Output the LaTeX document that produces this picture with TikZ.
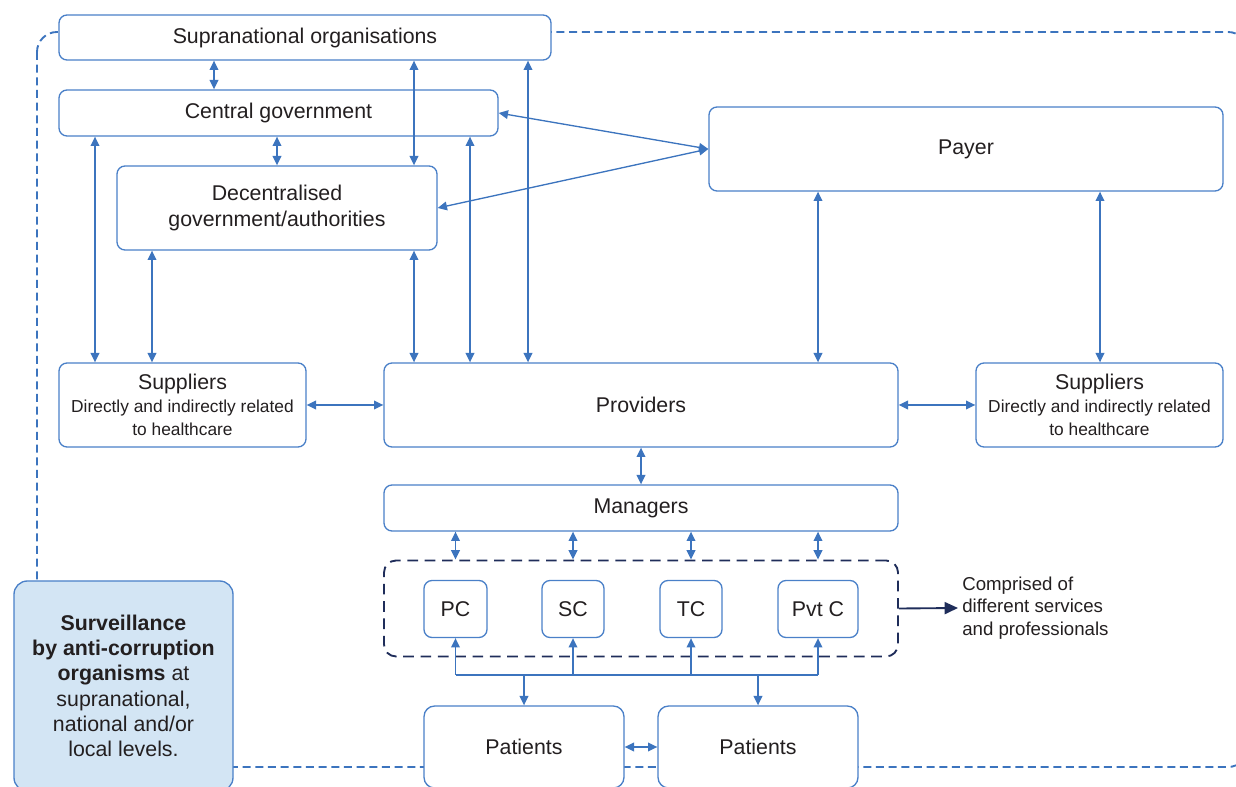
\documentclass[tikz,border=0pt]{standalone}
\usepackage{fontspec}
\setmainfont{Liberation Sans}
\usetikzlibrary{arrows.meta}
\definecolor{ln}{HTML}{3C74BE}
\definecolor{bd}{HTML}{4A80C8}
\definecolor{navy}{HTML}{1F2D5A}
\definecolor{tx}{HTML}{231F20}
\definecolor{sv}{HTML}{D3E5F4}
\newcommand{\subsz}{\fontsize{13}{17}\selectfont}
\begin{document}
\begin{tikzpicture}[x=0.75pt,y=-0.75pt,
  box/.style={draw=bd, line width=1pt, fill=white, rounded corners=6pt, text=tx,
    font=\fontsize{16}{19.5}\selectfont, align=center, inner sep=0pt},
  dbl/.style={draw=ln, line width=1pt, {Triangle[length=7pt,width=6.5pt]}-{Triangle[length=7pt,width=6.5pt]}},
  one/.style={draw=ln, line width=1pt, -{Triangle[length=7pt,width=6.5pt]}},
  plain/.style={draw=ln, line width=1pt},
]
\useasboundingbox (0,0) rectangle (1236,787);
% outer dashed frame
\draw[ln, line width=1.4pt, dash pattern=on 6pt off 3.5pt, rounded corners=15pt] (37,32) rectangle (1248,767);

% nodes
\node[box, minimum width=369pt, minimum height=33.75pt] (sup) at (305,37.5) {Supranational organisations};
\node[box, minimum width=329.25pt, minimum height=34.5pt] (cg) at (278.5,113) {Central government};
\node[box, minimum width=240pt, minimum height=63pt] (dg) at (277,208) {Decentralised\\government/authorities};
\node[box, minimum width=385.5pt, minimum height=63pt] (pay) at (966,149) {Payer};
\node[box, minimum width=185.25pt, minimum height=63pt, font=\fontsize{16}{17}\selectfont] (sl) at (182.5,405)
  {Suppliers\\\subsz Directly and indirectly related\\\subsz to healthcare};
\node[box, minimum width=385.5pt, minimum height=63pt] (prov) at (641,405) {Providers};
\node[box, minimum width=185.25pt, minimum height=63pt, font=\fontsize{16}{17}\selectfont] (sr) at (1099.5,405)
  {Suppliers\\\subsz Directly and indirectly related\\\subsz to healthcare};
\node[box, minimum width=385.5pt, minimum height=34.5pt] (man) at (641,508) {Managers};
\node[draw=navy, line width=1.4pt, dash pattern=on 8pt off 5pt, rounded corners=9pt,
  minimum width=385.5pt, minimum height=72pt, inner sep=0pt] (grp) at (641,608.5) {};
\node[box, minimum width=47.25pt, minimum height=42.75pt] (pc) at (455.5,609) {PC};
\node[box, minimum width=46.5pt, minimum height=42.75pt] (sc) at (573,609) {SC};
\node[box, minimum width=46.5pt, minimum height=42.75pt] (tc) at (691,609) {TC};
\node[box, minimum width=60pt, minimum height=42.75pt] (pvt) at (818,609) {Pvt C};
\node[box, minimum width=150pt, minimum height=61.5pt, rounded corners=8pt] (pa1) at (524,747) {Patients};
\node[box, minimum width=150pt, minimum height=61.5pt, rounded corners=8pt] (pa2) at (758,747) {Patients};
\node[box, fill=sv, rounded corners=10pt, minimum width=164.25pt, minimum height=157.5pt,
  font=\fontsize{16}{19}\selectfont] (surv) at (123.5,686)
  {\textbf{Surveillance}\\\textbf{by anti-corruption}\\\textbf{organisms} at\\supranational,\\national and/or\\local levels.};
\node[anchor=west, align=left, font=\fontsize{14}{17}\selectfont, text=tx, inner sep=0pt] (cmp) at (962,608)
  {Comprised of\\different services\\and professionals};

% connectors
\draw[dbl] (sup.south -| 214,0) -- (cg.north -| 214,0);
\draw[dbl] (sup.south -| 414,0) -- (dg.north -| 414,0);
\draw[dbl] (sup.south -| 528,0) -- (prov.north -| 528,0);
\draw[dbl] (cg.south -| 277,0) -- (dg.north -| 277,0);
\draw[dbl] (cg.south -| 95,0) -- (sl.north -| 95,0);
\draw[dbl] (cg.south -| 470,0) -- (prov.north -| 470,0);
\draw[dbl] (dg.south -| 152,0) -- (sl.north -| 152,0);
\draw[dbl] (dg.south -| 414,0) -- (prov.north -| 414,0);
\draw[dbl] (cg.east) -- (pay.west);
\draw[dbl] (dg.east) -- (pay.west);
\draw[dbl] (pay.south -| 818,0) -- (prov.north -| 818,0);
\draw[dbl] (pay.south -| 1100,0) -- (sr.north -| 1100,0);
\draw[dbl] (sl.east) -- (prov.west);
\draw[dbl] (prov.east) -- (sr.west);
\draw[dbl] (prov.south) -- (man.north);
\foreach \n in {pc,sc,tc,pvt}{
  \draw[dbl] (man.south -| \n.north) -- (grp.north -| \n.north);
}
\coordinate (bus) at (0,675);
\draw[plain] (pc.south |- bus) -- (pvt.south |- bus);
\foreach \n in {pc,sc,tc,pvt}{
  \draw[one] (\n.south |- bus) -- (\n.south);
}
\draw[one] (pa1.north |- bus) -- (pa1.north);
\draw[one] (pa2.north |- bus) -- (pa2.north);
\draw[dbl] (pa1.east) -- (pa2.west);
\draw[navy, line width=1.4pt, -{Triangle[length=10pt,width=9pt]}] (grp.east) -- ([xshift=-3pt]cmp.west);
\end{tikzpicture}
\end{document}
